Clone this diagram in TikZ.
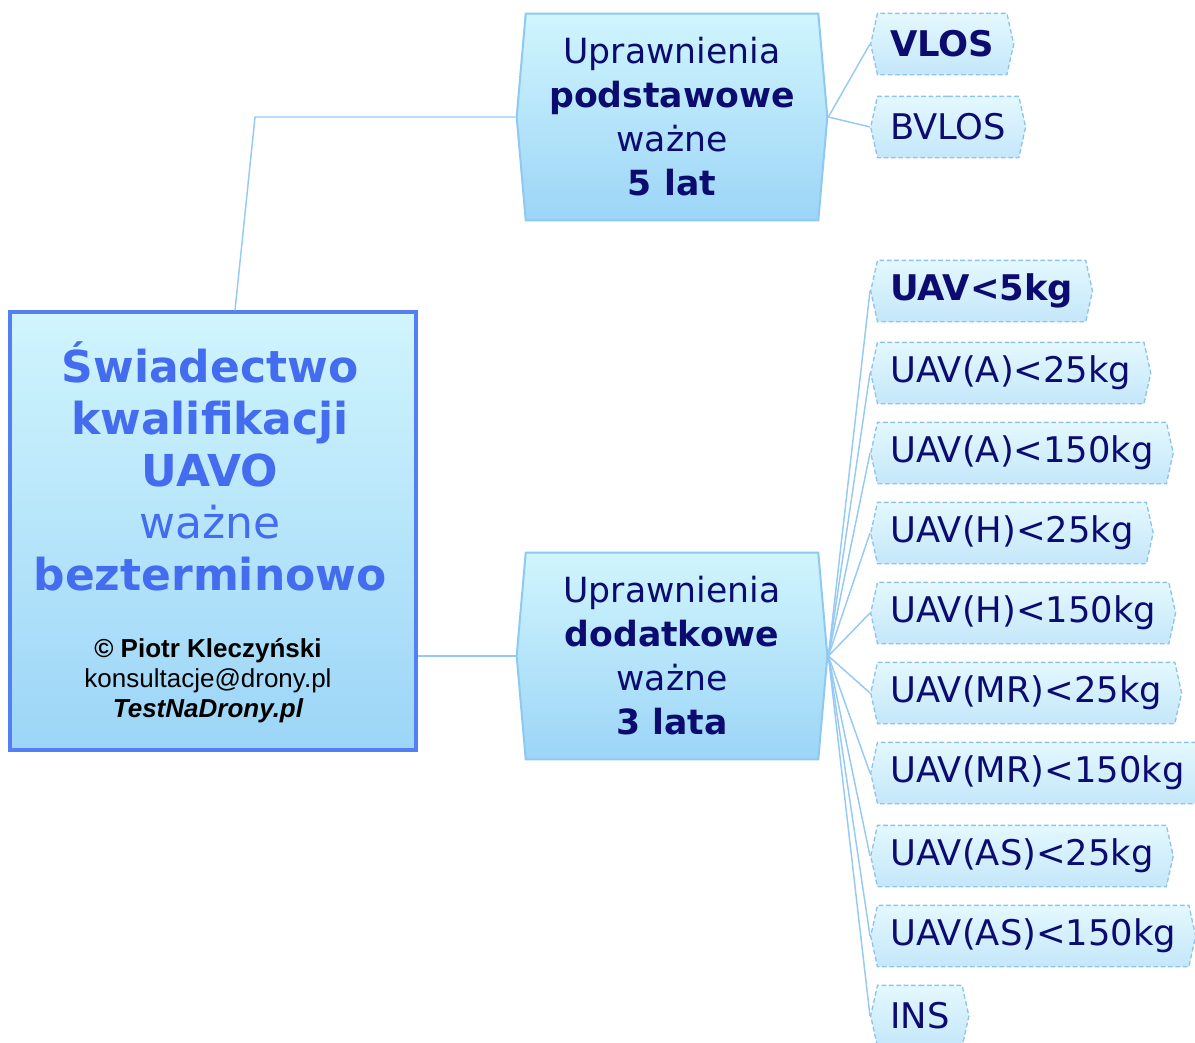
\documentclass[tikz,border=0pt]{standalone}
\usepackage{fontspec}
\setmainfont{DejaVu Sans}
\newfontfamily\arialfont{Liberation Sans}
\usetikzlibrary{shapes.symbols}
\definecolor{titleblue}{RGB}{68,108,238}
\definecolor{mainedge}{RGB}{82,128,242}
\definecolor{boxtop}{RGB}{208,245,253}
\definecolor{boxbottom}{RGB}{156,213,247}
\definecolor{midedge}{RGB}{142,201,242}
\definecolor{leaftop}{RGB}{228,248,254}
\definecolor{leafbottom}{RGB}{196,231,250}
\definecolor{leafedge}{RGB}{140,196,238}
\definecolor{navy}{RGB}{12,12,112}
\definecolor{linkblue}{RGB}{150,202,242}
\tikzset{
	mainbox/.style={draw=mainedge, line width=2.4pt, top color=boxtop, bottom color=boxbottom,
		minimum width=304.5pt, minimum height=328.5pt},
	maintext/.style={text=titleblue, align=center, font=\fontsize{33}{39}\selectfont\bfseries},
	authortext/.style={text=black, align=center, font=\arialfont\fontsize{19.5}{22.5}\selectfont},
	midbox/.style={shape=signal, signal to=east and west, signal pointer angle=170,
		draw=midedge, line width=1.5pt, top color=boxtop, bottom color=boxbottom,
		text=navy, align=center, font=\fontsize{26}{33}\selectfont,
		minimum width=233pt, minimum height=155pt},
	leaf/.style={shape=signal, signal to=east and west, signal pointer angle=155,
		draw=leafedge, dash pattern=on 3.5pt off 2pt, line width=1pt, top color=leaftop, bottom color=leafbottom,
		text=navy, font=\fontsize{26.5}{30}\selectfont, anchor=west,
		inner xsep=9.5pt, minimum height=46pt},
	link/.style={draw=linkblue, line width=1.1pt}
}
\begin{document}
\begin{tikzpicture}[x=0.75pt,y=-0.75pt]
	\useasboundingbox (0,0) rectangle (1195,1042);
	% certificate
	\node[mainbox] (main) at (213,531) {};
	\node[maintext] (title) at (210,466) {Świadectwo\\kwalifikacji\\UAVO\\{\mdseries ważne}\\bezterminowo};
	\node[authortext] (author) at (208,681) {{\bfseries © Piotr Kleczyński}\\konsultacje@drony.pl\\{\bfseries\itshape TestNaDrony.pl}};
	% two kinds of rights
	\node[midbox] (basic) at (672,117) {Uprawnienia\\\textbf{podstawowe}\\ważne\\\textbf{5 lat}};
	\node[midbox] (extra) at (672,656) {Uprawnienia\\\textbf{dodatkowe}\\ważne\\\textbf{3 lata}};
	\coordinate (bend) at (255,117);
	\draw[link] ([xshift=16.5pt]main.north) -- (bend) -- (basic.west);
	\draw[link] (extra.west -| main.east) -- (extra.west);
	% basic
	\node[leaf] (vlos) at (870,44) {\textbf{VLOS}};
	\node[leaf] (bvlos) at (870,127) {BVLOS};
	\draw[link] (basic.east) -- (vlos.west);
	\draw[link] (basic.east) -- (bvlos.west);
	% extra
	\node[leaf] (uav5) at (870,291) {\textbf{UAV<5kg}};
	\node[leaf] (a25) at (870,373) {UAV(A)<25kg};
	\node[leaf] (a150) at (870,453) {UAV(A)<150kg};
	\node[leaf] (h25) at (870,533) {UAV(H)<25kg};
	\node[leaf] (h150) at (870,613) {UAV(H)<150kg};
	\node[leaf] (mr25) at (870,693) {UAV(MR)<25kg};
	\node[leaf] (mr150) at (870,773) {UAV(MR)<150kg};
	\node[leaf] (as25) at (870,856) {UAV(AS)<25kg};
	\node[leaf] (as150) at (870,936) {UAV(AS)<150kg};
	\node[leaf] (ins) at (870,1016) {INS};
	\draw[link] (extra.east) -- (uav5.west);
	\draw[link] (extra.east) -- (a25.west);
	\draw[link] (extra.east) -- (a150.west);
	\draw[link] (extra.east) -- (h25.west);
	\draw[link] (extra.east) -- (h150.west);
	\draw[link] (extra.east) -- (mr25.west);
	\draw[link] (extra.east) -- (mr150.west);
	\draw[link] (extra.east) -- (as25.west);
	\draw[link] (extra.east) -- (as150.west);
	\draw[link] (extra.east) -- (ins.west);
\end{tikzpicture}
\end{document}
